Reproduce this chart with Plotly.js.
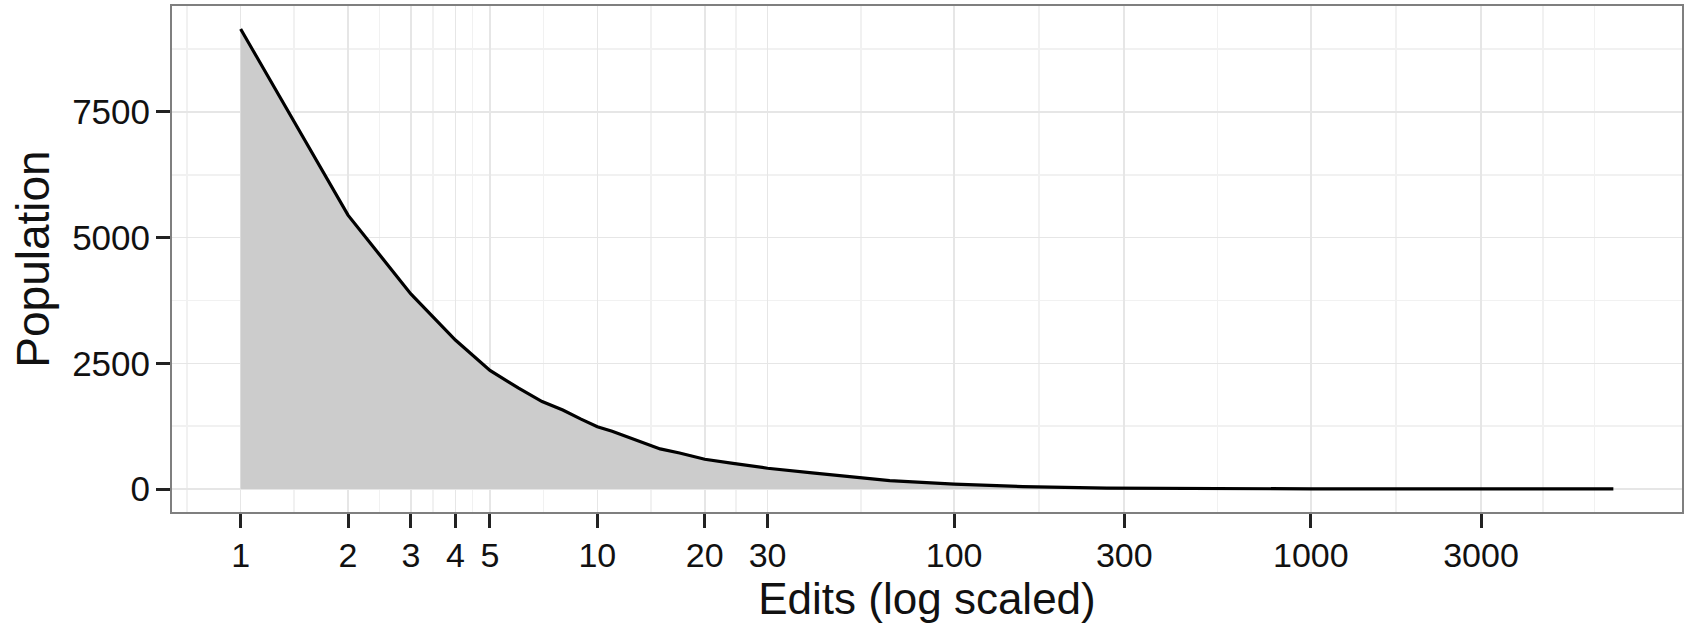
<!DOCTYPE html>
<html>
<head>
<meta charset="utf-8">
<script src="https://cdn.plot.ly/plotly-3.0.1.min.js"></script>
<style>
  html, body { margin: 0; padding: 0; background: #ffffff; }
  #chart { width: 1688px; height: 625px; }
</style>
</head>
<body>
<div id="chart"></div>
<script>
// Data
const edits = [1, 2, 3, 4, 5, 6, 7, 8, 9, 10, 11, 12, 13, 14, 15, 17, 20, 24, 30, 40, 50, 66, 100, 156, 268, 500, 1000, 2000, 3000, 7050];
const population = [9150, 5447, 3880, 2963, 2360, 2010, 1740, 1570, 1390, 1240, 1150, 1055, 960, 876, 797, 715, 592, 510, 413, 320, 245, 167, 95, 48, 16, 6, 3, 2, 1, 1];

// Axis breaks
const xTickVals = [1, 2, 3, 4, 5, 10, 20, 30, 100, 300, 1000, 3000];
const xTickText = ["1", "2", "3", "4", "5", "10", "20", "30", "100", "300", "1000", "3000"];
const xMinorVals = [0.707, 1.414, 2.449, 3.464, 4.472, 7.071, 14.14, 24.49, 54.77, 173.2, 547.7, 1732, 4470, 6250];
const yTickVals = [0, 2500, 5000, 7500];
const yTickText = ["0", "2500", "5000", "7500"];
const yMinorVals = [1250, 3750, 6250, 8750];

// ggplot-like 5% expansion
const lx0 = Math.log10(Math.min(...edits)), lx1 = Math.log10(Math.max(...edits));
const xSpan = lx1 - lx0;
const yMax = Math.max(...population);
const xRange = [lx0 - 0.05 * xSpan, lx1 + 0.05 * xSpan];
const yRange = [-0.05 * yMax, 1.05 * yMax];

const font = "Liberation Sans, Arial, Helvetica, sans-serif";

const trace = {
  x: edits,
  y: population,
  type: "scatter",
  mode: "lines",
  fill: "tozeroy",
  fillcolor: "#cccccc",
  line: { color: "#000000", width: 3.2 },
  hoverinfo: "skip"
};

const layout = {
  width: 1688,
  height: 625,
  margin: { l: 172, r: 6, t: 6, b: 113 },
  paper_bgcolor: "#ffffff",
  plot_bgcolor: "#ffffff",
  showlegend: false,
  font: { family: font, color: "#111111", size: 34 },
  xaxis: {
    type: "log",
    range: xRange,
    tickmode: "array",
    tickvals: xTickVals,
    ticktext: xTickText,
    ticks: "outside",
    ticklen: 14,
    tickwidth: 3,
    tickcolor: "#222222",
    ticklabelstandoff: -2,
    tickfont: { family: font, size: 34, color: "#111111" },
    showgrid: true,
    gridcolor: "#e6e6e6",
    gridwidth: 1.6,
    minor: {
      tickmode: "array",
      tickvals: xMinorVals,
      showgrid: true,
      gridcolor: "#f1f1f1",
      gridwidth: 1.6,
      ticks: ""
    },
    showline: true,
    linecolor: "#7f7f7f",
    linewidth: 2,
    mirror: true,
    zeroline: false,
    title: { text: "Edits (log scaled)", font: { family: font, size: 44, color: "#111111" }, standoff: 4 }
  },
  yaxis: {
    range: yRange,
    tickmode: "array",
    tickvals: yTickVals,
    ticktext: yTickText,
    ticks: "outside",
    ticklen: 14,
    tickwidth: 3,
    tickcolor: "#222222",
    ticklabelstandoff: -1,
    tickfont: { family: font, size: 35, color: "#111111" },
    showgrid: true,
    gridcolor: "#e6e6e6",
    gridwidth: 1.6,
    minor: {
      tickmode: "array",
      tickvals: yMinorVals,
      showgrid: true,
      gridcolor: "#f1f1f1",
      gridwidth: 1.6,
      ticks: ""
    },
    showline: true,
    linecolor: "#7f7f7f",
    linewidth: 2,
    mirror: true,
    zeroline: false,
    title: { text: "Population", font: { family: font, size: 46, color: "#111111" }, standoff: 8 }
  }
};

Plotly.newPlot("chart", [trace], layout, { staticPlot: true, displayModeBar: false });
</script>
</body>
</html>
